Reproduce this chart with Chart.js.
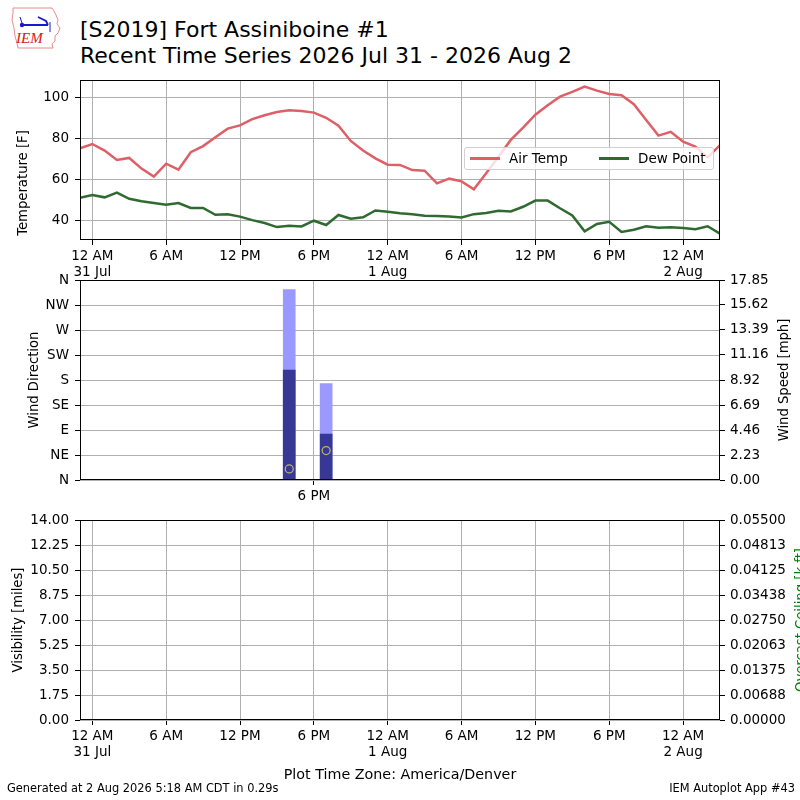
<!DOCTYPE html>
<html>
<head>
<meta charset="utf-8">
<script src="https://cdn.jsdelivr.net/npm/chart.js@4.4.0/dist/chart.umd.min.js"></script>
<style>
body{margin:0;width:800px;height:800px;position:relative;overflow:hidden;background:#fff;font-family:"DejaVu Sans",sans-serif;color:#000}
.abs{position:absolute}
.ylab{position:absolute;white-space:nowrap;font-size:13.2px;transform:translate(-50%,-50%) rotate(-90deg)}
canvas{position:absolute;left:0}
</style>
</head>
<body>

<svg class="abs" style="left:10px;top:5px" width="52" height="46" viewBox="0 0 52 46">
  <path d="M3 3 L42 3 L44 6 L46 10 L48 15 L47 19 L50 23 L48 28 L45 31 L45 36 L42 39 L43 43 L8 43 L7 38 L5 31 L4 23 L2 15 L3 8 Z" fill="none" stroke="#e07070" stroke-width="0.8"/>
  <line x1="12" y1="20" x2="38" y2="20" stroke="#1a1acc" stroke-width="2"/>
  <circle cx="12" cy="20" r="2.2" fill="#1a1acc"/>
  <line x1="12" y1="18" x2="10" y2="12" stroke="#1a1acc" stroke-width="1"/>
  <path d="M28 12 L36 16 L38 20" fill="none" stroke="#1a1acc" stroke-width="1.8"/>
  <line x1="40" y1="17" x2="40" y2="27" stroke="#1a1acc" stroke-width="1"/>
  <text x="6" y="38" font-family="Liberation Serif" font-style="italic" font-size="15" fill="#d42020">IEM</text>
</svg>

<div class="abs" style="left:80px;top:17px;font-size:22px;line-height:26px;white-space:nowrap">[S2019] Fort Assiniboine #1<br>Recent Time Series 2026 Jul 31 - 2026 Aug 2</div>

<canvas id="c1" width="800" height="218" style="top:64px"></canvas>
<canvas id="c2" width="800" height="246" style="top:264px"></canvas>
<canvas id="c3" width="800" height="266" style="top:504px"></canvas>

<div class="abs" style="left:464px;top:147px;width:248px;height:21px;background:rgba(255,255,255,0.8);border:1px solid #d0d0d0;border-radius:3px;font-size:13.5px">
  <span class="abs" style="left:5px;top:9px;width:30px;height:2.5px;background:#df5f66"></span>
  <span class="abs" style="left:44px;top:2px">Air Temp</span>
  <span class="abs" style="left:134px;top:9px;width:30px;height:2.5px;background:#2f6b30"></span>
  <span class="abs" style="left:173px;top:2px">Dew Point</span>
</div>

<div class="ylab" style="left:22px;top:183px">Temperature [F]</div>
<div class="ylab" style="left:33px;top:380px">Wind Direction</div>
<div class="ylab" style="left:783px;top:380px">Wind Speed [mph]</div>
<div class="ylab" style="left:17px;top:620px">Visibility [miles]</div>
<div class="ylab" style="left:800px;top:620px;color:#008000">Overcast Ceiling [k ft]</div>

<div class="abs" style="left:0;width:800px;top:766px;text-align:center;font-size:14.3px">Plot Time Zone: America/Denver</div>
<div class="abs" style="left:7px;top:781px;font-size:11.4px">Generated at 2 Aug 2026 5:18 AM CDT in 0.29s</div>
<div class="abs" style="right:5px;top:781px;font-size:11.4px">IEM Autoplot App #43</div>

<script>
// hours since 31 Jul 00:00 America/Denver
var hours = [-1,0,1,2,3,4,5,6,7,8,9,10,11,12,13,14,15,16,17,18,19,20,21,22,23,24,25,26,27,28,29,30,31,32,33,34,35,36,37,38,39,40,41,42,43,44,45,46,47,48,49,50,51];
var airTemp = [75.1,77.2,74.0,69.4,70.4,65.2,61.3,67.6,64.7,73.2,76.2,80.5,84.7,86.3,89.3,91.2,92.8,93.7,93.3,92.5,90.0,86.1,78.7,74.0,70.2,67.1,67.0,64.5,64.2,58.0,60.3,59.0,55.1,62.9,71.0,79.2,85.2,91.5,96.1,100.3,102.6,105.2,103.2,101.6,101.0,96.6,88.9,81.3,83.1,78.3,75.9,70.7,76.7];
var dewPoint = [51.0,52.3,51.2,53.5,50.5,49.3,48.4,47.6,48.4,46.0,46.0,42.7,42.9,41.8,40.1,38.7,36.7,37.4,37.0,39.8,37.7,42.6,40.8,41.5,44.8,44.2,43.4,43.0,42.2,42.1,41.9,41.4,43.0,43.6,44.6,44.3,46.6,49.6,49.6,45.9,42.4,34.6,38.2,39.3,34.3,35.4,37.1,36.4,36.6,36.3,35.6,37.1,33.5];

var windHours = [16, 19];
var windSpeed = [9.8, 4.1];
var windGust = [17.0, 8.6];
var windDir = [20, 53];

var visibility = [];
var ceiling = [];

var xTickHours = [0,6,12,18,24,30,36,42,48];
var xTickLabels = [['12 AM','31 Jul'],'6 AM','12 PM','6 PM',['12 AM','1 Aug'],'6 AM','12 PM','6 PM',['12 AM','2 Aug']];
var tempTicks = [40,60,80,100];
var dirTicks = [0,45,90,135,180,225,270,315,360];
var dirLabels = ['N','NE','E','SE','S','SW','W','NW','N'];
var speedTicks = [0,2.23,4.46,6.69,8.92,11.16,13.39,15.62,17.85];
var speedLabels = ['0.00','2.23','4.46','6.69','8.92','11.16','13.39','15.62','17.85'];
var visTicks = [0,1.75,3.5,5.25,7,8.75,10.5,12.25,14];
var visLabels = ['0.00','1.75','3.50','5.25','7.00','8.75','10.50','12.25','14.00'];
var ceilTicks = [0,0.006875,0.01375,0.020625,0.0275,0.034375,0.04125,0.048125,0.055];
var ceilLabels = ['0.00000','0.00688','0.01375','0.02063','0.02750','0.03438','0.04125','0.04813','0.05500'];

Chart.defaults.font.family = 'DejaVu Sans';
Chart.defaults.font.size = 13.5;
Chart.defaults.color = '#000';
Chart.defaults.animation = false;
Chart.defaults.plugins.legend.display = false;
Chart.defaults.plugins.tooltip.enabled = false;

// black box round the plot area
var frame = {
	id: 'frame',
	afterDraw: function(chart){
		var a = chart.chartArea, ctx = chart.ctx;
		ctx.save();
		ctx.strokeStyle = '#000';
		ctx.lineWidth = 1;
		ctx.strokeRect(Math.round(a.left)+0.5, Math.round(a.top)+0.5, Math.round(a.right-a.left)-1, Math.round(a.bottom-a.top)-1);
		ctx.restore();
	}
};

function xAxis(ticks, labels, h){
	return {
		type: 'linear', min: -1, max: 51, offset: false,
		afterBuildTicks: function(s){ s.ticks = ticks.map(function(v){ return {value: v}; }); },
		afterFit: function(s){ s.height = h; },
		ticks: { autoSkip: false, maxRotation: 0, padding: 3, callback: function(v, i){ return labels[i]; } },
		grid: { color: '#b0b0b0', tickColor: '#000', tickLength: 5, offset: false },
		border: { display: false }
	};
}

function yAxis(pos, min, max, ticks, labels, grid){
	return {
		type: 'linear', position: pos, min: min, max: max,
		afterBuildTicks: function(s){ s.ticks = ticks.map(function(v){ return {value: v}; }); },
		afterFit: function(s){ s.width = 80; },
		ticks: { autoSkip: false, padding: pos == 'left' ? 6 : 5, callback: function(v, i){ return labels ? labels[i] : v; } },
		grid: { color: '#b0b0b0', tickColor: '#000', tickLength: 5, drawOnChartArea: grid },
		border: { display: false }
	};
}

function pts(xs, ys){
	return xs.map(function(x, i){ return {x: x, y: ys[i]}; });
}

new Chart(document.getElementById('c1'), {
	type: 'line',
	data: {
		datasets: [
			{ label: 'Air Temp', data: pts(hours, airTemp), borderColor: '#df5f66', borderWidth: 2.5, pointRadius: 0, tension: 0 },
			{ label: 'Dew Point', data: pts(hours, dewPoint), borderColor: '#2f6b30', borderWidth: 2.5, pointRadius: 0, tension: 0 }
		]
	},
	options: {
		responsive: false,
		layout: { padding: { top: 16, right: 80, left: 0, bottom: 0 } },
		scales: {
			x: xAxis(xTickHours, xTickLabels, 42),
			y: yAxis('left', 30.4, 108.4, tempTicks, null, true)
		}
	},
	plugins: [frame]
});

new Chart(document.getElementById('c2'), {
	type: 'line',
	data: {
		datasets: [
			{ type: 'line', label: 'Direction', data: pts(windHours, windDir), yAxisID: 'dir', showLine: false,
			  pointRadius: 4, pointBorderWidth: 1.2, pointBorderColor: '#bdb76b', pointBackgroundColor: 'rgba(0,0,0,0)', order: 0 },
			{ type: 'bar', label: 'Speed', data: pts(windHours, windSpeed), yAxisID: 'spd', backgroundColor: '#373796',
			  barThickness: 12, grouped: false, order: 1 },
			{ type: 'bar', label: 'Gust', data: pts(windHours, windGust), yAxisID: 'spd', backgroundColor: '#9999ff',
			  barThickness: 12, grouped: false, order: 2 }
		]
	},
	options: {
		responsive: false,
		layout: { padding: { top: 16, right: 0, left: 0, bottom: 0 } },
		scales: {
			x: xAxis([18], ['6 PM'], 30),
			dir: yAxis('left', 0, 360, dirTicks, dirLabels, true),
			spd: yAxis('right', 0, 17.85, speedTicks, speedLabels, false)
		}
	},
	plugins: [frame]
});

new Chart(document.getElementById('c3'), {
	type: 'line',
	data: {
		datasets: [
			{ label: 'Visibility', data: visibility, yAxisID: 'vis', borderColor: '#000' },
			{ label: 'Ceiling', data: ceiling, yAxisID: 'ceil', borderColor: '#008000' }
		]
	},
	options: {
		responsive: false,
		layout: { padding: { top: 16, right: 0, left: 0, bottom: 0 } },
		scales: {
			x: xAxis(xTickHours, xTickLabels, 50),
			vis: yAxis('left', 0, 14, visTicks, visLabels, true),
			ceil: yAxis('right', 0, 0.055, ceilTicks, ceilLabels, false)
		}
	},
	plugins: [frame]
});
</script>
</body>
</html>
